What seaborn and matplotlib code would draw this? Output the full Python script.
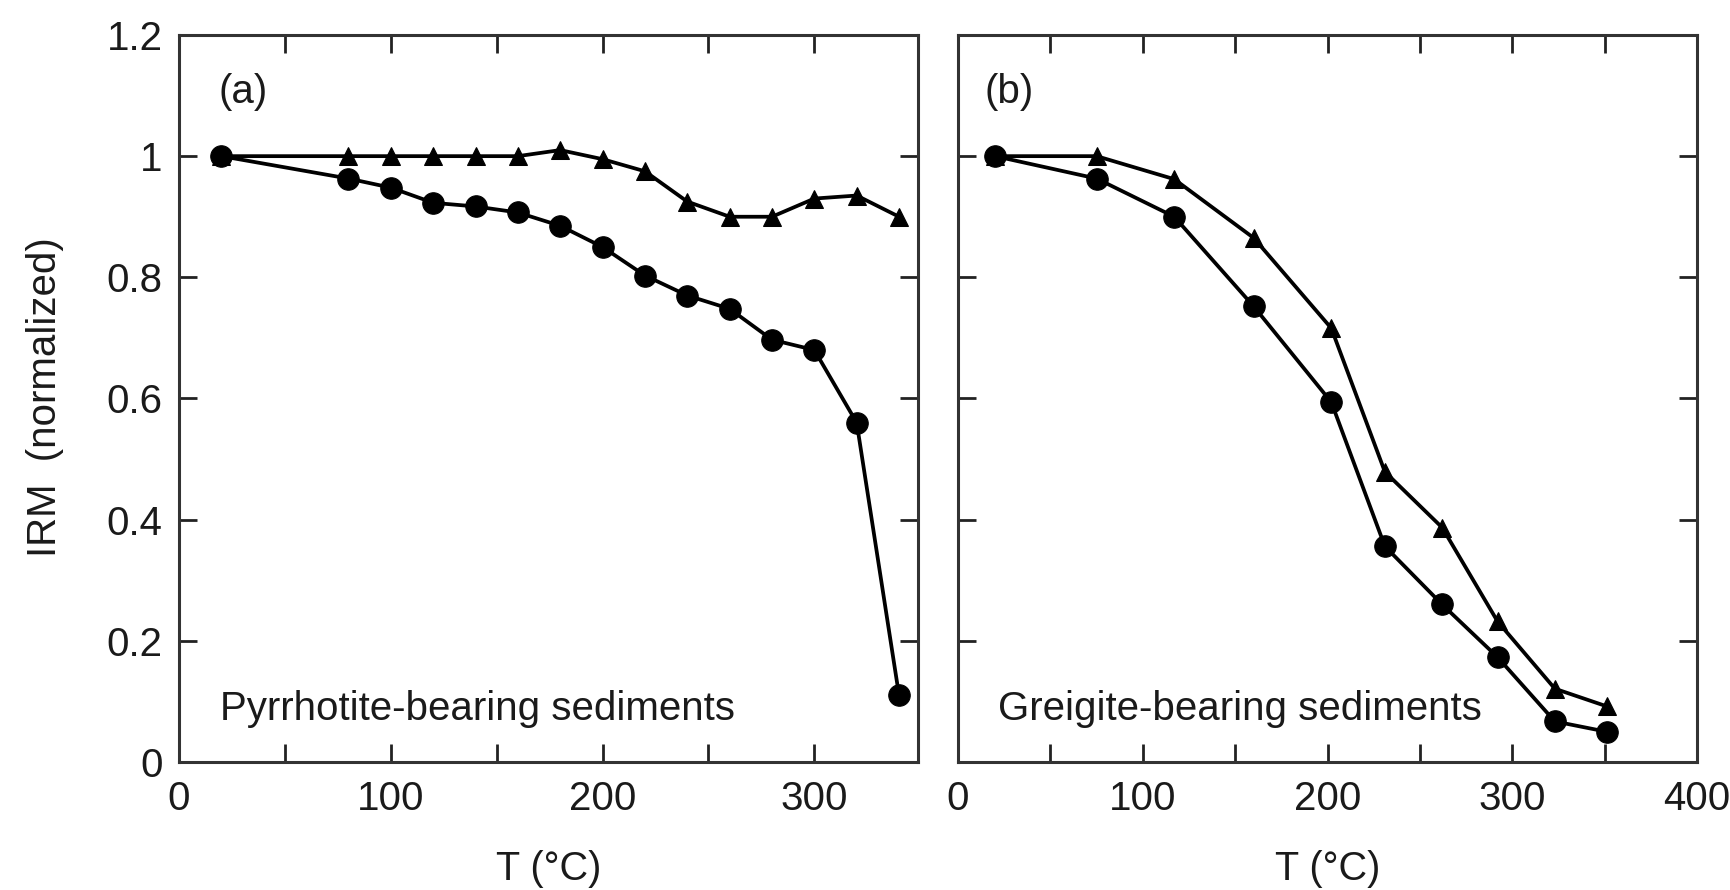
import matplotlib
matplotlib.use("Agg")
import matplotlib.pyplot as plt
import seaborn as sns
import numpy as np
from matplotlib.ticker import MultipleLocator

sns.set_theme(style="white")
plt.rcParams['font.family'] = ['Liberation Sans', 'DejaVu Sans']

# Panel (a): pyrrhotite-bearing sediments
a_T = [20, 80, 100, 120, 140, 160, 180, 200, 220, 240, 260, 280, 300, 320, 340]
a_tri = [1.0, 1.0, 1.0, 1.0, 1.0, 1.0, 1.01, 0.995, 0.975, 0.925, 0.9, 0.9, 0.93, 0.935, 0.9]
a_circ = [1.0, 0.963, 0.948, 0.923, 0.917, 0.907, 0.885, 0.85, 0.803, 0.77, 0.748, 0.697, 0.68, 0.56, 0.11]

# Panel (b): greigite-bearing sediments
b_T = [20, 75, 117, 160, 202, 231, 262, 292, 323, 351]
b_tri = [1.0, 1.0, 0.962, 0.865, 0.716, 0.479, 0.387, 0.232, 0.121, 0.092]
b_circ = [1.0, 0.963, 0.9, 0.752, 0.594, 0.356, 0.26, 0.173, 0.067, 0.05]

y_ticks = [0, 0.2, 0.4, 0.6, 0.8, 1.0, 1.2]
y_ticklabels = ['0', '0.2', '0.4', '0.6', '0.8', '1', '1.2']
a_xticks = [0, 100, 200, 300]
b_xticks = [0, 100, 200, 300, 400]

TXT = '#1a1a1a'

fig = plt.figure(figsize=(17.3, 8.9), dpi=100)
ax1 = fig.add_axes([0.1035, 0.1438, 0.4272, 0.8169])
ax2 = fig.add_axes([0.5538, 0.1438, 0.4272, 0.8169])

def draw(ax, T, tri, circ):
    sns.lineplot(x=T, y=tri, ax=ax, color='black', linewidth=2.7, marker='^',
                 markersize=13.5, markeredgecolor='black', markerfacecolor='black',
                 estimator=None, sort=False)
    sns.lineplot(x=T, y=circ, ax=ax, color='black', linewidth=2.7, marker='o',
                 markersize=15.5, markeredgecolor='black', markerfacecolor='black',
                 estimator=None, sort=False)

draw(ax1, a_T, a_tri, a_circ)
draw(ax2, b_T, b_tri, b_circ)

for ax in (ax1, ax2):
    ax.set_ylim(0, 1.2)
    ax.xaxis.set_minor_locator(MultipleLocator(50))
    ax.tick_params(axis='both', which='both', direction='in', top=True, right=True,
                   bottom=True, left=True, width=2, color='#222222')
    ax.tick_params(axis='both', which='major', length=13, labelsize=29, pad=12, labelcolor=TXT)
    ax.tick_params(axis='x', which='minor', length=13)
    ax.tick_params(axis='x', which='major', pad=13)
    for s in ax.spines.values():
        s.set_linewidth(2.2)
        s.set_color('#333333')
    ax.set_xlabel('T (°C)', fontsize=28.5, color=TXT, va='center')
    ax.xaxis.set_label_coords(0.5, -0.147)
    ax.grid(False)
    ax.set_yticks(y_ticks)

ax1.set_xlim(0, 349)
ax2.set_xlim(0, 400)
ax1.set_yticklabels(y_ticklabels)
ax2.set_yticklabels([])
ax1.set_xticks(a_xticks)
ax1.set_xticklabels([str(v) for v in a_xticks])
ax2.set_xticks(b_xticks)
ax2.set_xticklabels([str(v) for v in b_xticks])

ax1.set_ylabel('IRM  (normalized)', fontsize=29, color=TXT, va='center')
ax1.yaxis.set_label_coords(-0.182, 0.502)

ax1.text(0.054, 0.906, '(a)', transform=ax1.transAxes, fontsize=29, va='baseline', ha='left', color=TXT)
ax1.text(0.055, 0.058, 'Pyrrhotite-bearing sediments', transform=ax1.transAxes, fontsize=29,
         va='baseline', ha='left', color=TXT)
ax2.text(0.036, 0.906, '(b)', transform=ax2.transAxes, fontsize=29, va='baseline', ha='left', color=TXT)
ax2.text(0.054, 0.058, 'Greigite-bearing sediments', transform=ax2.transAxes, fontsize=29,
         va='baseline', ha='left', color=TXT)

fig.savefig('out.png', dpi=100)
